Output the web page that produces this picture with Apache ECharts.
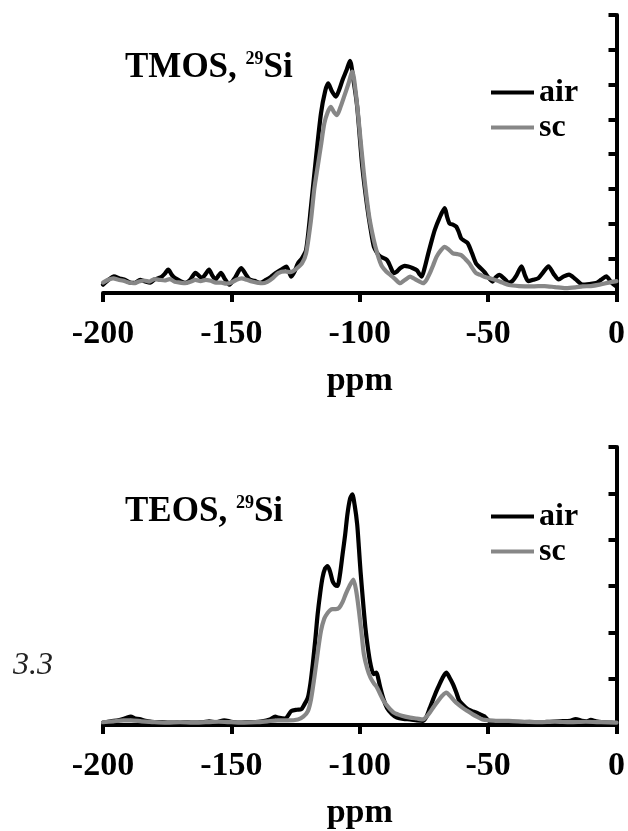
<!DOCTYPE html>
<html>
<head>
<meta charset="utf-8">
<script src="https://cdn.jsdelivr.net/npm/echarts@6/dist/echarts.min.js"></script>
<style>
  html, body { margin: 0; padding: 0; background: #fff; }
  #chart { width: 628px; height: 831px; }
</style>
</head>
<body>
<div id="chart"></div>
<script>
// 29Si NMR spectra, chemical shift (ppm) vs. intensity (a.u.)
const shiftTicks = [-200, -150, -100, -50, 0];
const seriesNames = ['air', 'sc'];

// TMOS-derived gel
const tmosAir = [
  [-200,0.24],[-197.5,0.4],[-195.8,0.48],[-193.5,0.42],[-191.8,0.39],[-189.5,0.3],[-187.8,0.29],
  [-185.5,0.38],[-183.9,0.34],[-181.5,0.3],[-179.9,0.39],[-177.5,0.45],[-176,0.55],[-174.6,0.67],
  [-173.2,0.52],[-172,0.43],[-170,0.35],[-168,0.29],[-166,0.38],[-164,0.58],[-162.7,0.5],
  [-161.4,0.43],[-160,0.55],[-158.7,0.67],[-157.4,0.5],[-156.1,0.39],[-155,0.5],[-154.1,0.58],
  [-152.5,0.4],[-150.8,0.24],[-148.5,0.45],[-146.2,0.72],[-144.5,0.55],[-142.9,0.39],[-141,0.35],
  [-138.9,0.29],[-136.5,0.38],[-134.5,0.47],[-133.6,0.53],[-131.8,0.62],[-130,0.7],[-128.6,0.76],
  [-127.5,0.6],[-126.7,0.47],[-125.5,0.6],[-124.1,0.85],[-122.5,1.0],[-120.9,1.24],[-119,2.48],
  [-117,3.92],[-115.1,5.17],[-113.5,5.8],[-112.3,6.03],[-110.8,5.8],[-109.3,5.65],[-108,5.85],
  [-106.7,6.13],[-105.2,6.4],[-103.8,6.68],[-102.4,6.1],[-101,5.36],[-99,3.63],[-97.1,2.48],
  [-95.8,1.85],[-94.5,1.33],[-93.2,1.15],[-92,1.05],[-89.4,0.95],[-88,0.75],[-86.8,0.57],
  [-85.5,0.62],[-84.3,0.71],[-82.5,0.78],[-81.1,0.76],[-79.5,0.72],[-77.8,0.66],[-76.8,0.55],
  [-75.9,0.47],[-74.8,0.7],[-73.3,1.14],[-72,1.5],[-70.8,1.81],[-69,2.15],[-66.9,2.44],[-66,2.2],
  [-65,2.0],[-63.7,1.97],[-62.4,1.91],[-61.4,1.75],[-60.5,1.57],[-59.2,1.5],[-57.9,1.43],
  [-56.3,1.15],[-54.7,0.85],[-53,0.72],[-51.5,0.61],[-49.9,0.45],[-48.3,0.33],[-47,0.45],
  [-45.7,0.52],[-43.8,0.42],[-42,0.3],[-40.5,0.35],[-39,0.5],[-37,0.77],[-35.6,0.5],[-34.4,0.34],
  [-32.4,0.38],[-30.4,0.43],[-28.5,0.6],[-26.5,0.77],[-24.5,0.55],[-22.5,0.39],[-20.5,0.48],
  [-18.5,0.53],[-16,0.4],[-13.2,0.24],[-10.5,0.26],[-7.9,0.29],[-6,0.38],[-4,0.48],[-2,0.3],[0,0.19]
];
const tmosSc = [
  [-200,0.3],[-198,0.38],[-196,0.42],[-194,0.38],[-192,0.35],[-190,0.3],[-188,0.28],[-186,0.33],
  [-184,0.36],[-182,0.33],[-180,0.4],[-178,0.38],[-176,0.36],[-174,0.4],[-172,0.32],[-170,0.3],
  [-168,0.28],[-166,0.32],[-164,0.38],[-162,0.34],[-160,0.38],[-158,0.35],[-156,0.3],[-154,0.3],
  [-152,0.27],[-150,0.3],[-148,0.38],[-146,0.42],[-144,0.38],[-142,0.33],[-140,0.3],[-138,0.28],
  [-136,0.32],[-134,0.42],[-131.8,0.57],[-129,0.62],[-127,0.6],[-125,0.68],[-122.5,0.85],
  [-120.9,1.14],[-119,2.1],[-117.7,3.0],[-116.4,3.63],[-115,4.3],[-113.8,4.88],[-112.5,5.2],
  [-111.3,5.36],[-110,5.2],[-108.9,5.12],[-107.5,5.35],[-106.1,5.65],[-104.5,6.0],[-102.9,6.37],
  [-101.6,5.8],[-100.3,4.88],[-98.4,3.44],[-96.5,2.29],[-95.2,1.75],[-93.9,1.33],[-92.6,1.0],
  [-91.3,0.76],[-89.7,0.62],[-88.1,0.52],[-86.2,0.4],[-84.3,0.28],[-82.3,0.38],[-80.4,0.47],
  [-79,0.42],[-77.8,0.37],[-76.5,0.32],[-75.3,0.28],[-74,0.38],[-72.7,0.57],[-71.4,0.8],
  [-70.1,1.04],[-68.5,1.22],[-66.9,1.33],[-65.3,1.25],[-63.7,1.14],[-62,1.12],[-60.5,1.09],
  [-58.9,0.98],[-57.3,0.85],[-56,0.7],[-54.7,0.57],[-53,0.52],[-51.5,0.47],[-49,0.42],[-47,0.37],
  [-44.5,0.3],[-41.9,0.23],[-38,0.2],[-33,0.19],[-28,0.2],[-24,0.17],[-19.8,0.14],[-16,0.16],
  [-13.2,0.19],[-10,0.2],[-6.6,0.24],[-3,0.3],[0,0.34]
];

// TEOS-derived gel
const teosAir = [
  [-200,0.05],[-197,0.08],[-194,0.1],[-191,0.15],[-189.2,0.18],[-187.5,0.14],[-185.8,0.13],
  [-183.5,0.09],[-181,0.07],[-177,0.06],[-173,0.05],[-169,0.06],[-165,0.05],[-161,0.06],
  [-158.7,0.08],[-156,0.06],[-152.8,0.1],[-150,0.07],[-146,0.05],[-142,0.06],[-138,0.08],
  [-135,0.12],[-132.9,0.18],[-131.8,0.16],[-129,0.14],[-126.7,0.3],[-124.5,0.33],[-122.8,0.34],
  [-121.5,0.45],[-120.2,0.59],[-119.2,0.9],[-118.3,1.31],[-117.3,1.85],[-116.4,2.39],[-115.4,2.85],
  [-114.5,3.18],[-113.5,3.38],[-112.5,3.43],[-111.5,3.3],[-110.6,3.11],[-109.6,3.02],[-108.7,3.0],
  [-107.7,3.25],[-106.7,3.68],[-105.7,4.1],[-104.8,4.55],[-103.8,4.88],[-102.9,4.98],[-102,4.75],
  [-101,4.33],[-100.3,3.8],[-99.7,3.32],[-98.7,2.65],[-97.8,2.1],[-96.8,1.65],[-95.8,1.31],
  [-94.6,1.1],[-93.5,1.13],[-92.7,0.98],[-92,0.81],[-90.7,0.55],[-89.4,0.37],[-87.5,0.24],
  [-85.5,0.16],[-83,0.13],[-80.4,0.12],[-77.8,0.1],[-75.3,0.09],[-74,0.18],[-72.7,0.37],
  [-71.1,0.6],[-69.5,0.81],[-67.9,1.0],[-66.3,1.13],[-65,1.02],[-63.7,0.88],[-62.4,0.7],
  [-61.2,0.52],[-59.5,0.42],[-57.9,0.34],[-56.3,0.3],[-54.7,0.27],[-53.1,0.23],[-51.5,0.19],
  [-49.9,0.1],[-48.3,0.05],[-45,0.06],[-41.9,0.05],[-38,0.06],[-34,0.07],[-30,0.06],[-26,0.07],
  [-22,0.08],[-18,0.09],[-15.9,0.13],[-13.5,0.09],[-11.5,0.08],[-10,0.11],[-8,0.08],[-5,0.06],
  [-2,0.05],[0,0.04]
];
const teosSc = [
  [-200,0.06],[-196,0.08],[-192,0.1],[-189,0.1],[-185,0.08],[-180,0.06],[-175,0.05],[-170,0.06],
  [-165,0.05],[-160,0.06],[-155,0.07],[-150,0.06],[-145,0.05],[-140,0.06],[-136,0.08],[-132,0.1],
  [-128,0.1],[-124.1,0.12],[-122,0.18],[-120.2,0.3],[-119,0.55],[-117.7,1.02],[-116.4,1.55],
  [-115.1,2.03],[-113.8,2.3],[-112.5,2.42],[-111.5,2.48],[-110.6,2.5],[-109.3,2.5],[-108,2.53],
  [-106.7,2.65],[-105.5,2.82],[-104,3.0],[-102.5,3.14],[-101.4,2.9],[-100.3,2.46],[-99.3,1.98],
  [-98.4,1.53],[-97.1,1.22],[-95.8,1.02],[-94.5,0.9],[-93.3,0.81],[-92,0.66],[-90.7,0.52],
  [-88.8,0.38],[-86.8,0.27],[-83.6,0.2],[-80.4,0.16],[-77.8,0.14],[-75.3,0.12],[-74,0.18],
  [-72.7,0.27],[-71.1,0.4],[-69.5,0.52],[-67.9,0.63],[-66.3,0.7],[-64.7,0.62],[-63.1,0.52],
  [-61.5,0.44],[-59.9,0.37],[-58,0.3],[-56,0.23],[-54,0.17],[-52.2,0.12],[-49.5,0.1],[-47,0.09],
  [-41.9,0.09],[-36,0.07],[-30,0.06],[-24,0.07],[-18,0.06],[-12,0.07],[-6,0.06],[0,0.05]
];

const SERIF = '"Liberation Serif", "Times New Roman", serif';
const AIR_COLOR = '#000000';
const SC_COLOR = '#878787';

function shiftAxis(gridIndex) {
  return {
    type: 'value', gridIndex,
    min: shiftTicks[0], max: shiftTicks[shiftTicks.length - 1], interval: 50,
    name: 'ppm', nameLocation: 'middle', nameGap: 71,
    nameTextStyle: { fontFamily: SERIF, fontWeight: 'bold', fontSize: 34, color: '#000' },
    axisLine: { show: true, onZero: false, lineStyle: { color: '#000', width: 4 } },
    axisTick: { show: true, inside: false, length: 9, lineStyle: { color: '#000', width: 4 } },
    axisLabel: {
      show: true, margin: 24, color: '#000',
      fontFamily: SERIF, fontWeight: 'bold', fontSize: 34,
      showMinLabel: true, showMaxLabel: true
    },
    splitLine: { show: false }
  };
}

function intensityAxis(gridIndex, max) {
  return {
    type: 'value', gridIndex, position: 'right',
    min: 0, max, interval: 1,
    axisLine: { show: true, onZero: false, lineStyle: { color: '#000', width: 4 } },
    axisTick: { show: true, inside: true, length: 8, lineStyle: { color: '#000', width: 4 } },
    axisLabel: { show: false },
    splitLine: { show: false }
  };
}

function spectrum(name, data, color, idx) {
  return {
    type: 'line', name, data,
    xAxisIndex: idx, yAxisIndex: idx,
    showSymbol: false, symbol: 'none', smooth: 0.25,
    lineStyle: { color, width: 4.2, join: 'round', cap: 'round' },
    itemStyle: { color },
    animation: false, z: color === AIR_COLOR ? 3 : 4
  };
}

function legendBox(top) {
  return {
    data: seriesNames, orient: 'vertical', left: 491, top,
    padding: 0, itemGap: 0, itemWidth: 43, itemHeight: 4, icon: 'rect',
    selectedMode: false,
    textStyle: { fontFamily: SERIF, fontWeight: 'bold', fontSize: 32, color: '#000', lineHeight: 35 }
  };
}

function heading(label, top) {
  return {
    text: '{a|' + label + ', }{s|29}{a|Si}', left: 125, top, padding: 0,
    textStyle: {
      rich: {
        a: { fontFamily: SERIF, fontWeight: 'bold', fontSize: 35, lineHeight: 36, color: '#000' },
        s: { fontFamily: SERIF, fontWeight: 'bold', fontSize: 18, lineHeight: 22, color: '#000', verticalAlign: 'top' }
      }
    }
  };
}

const chart = echarts.init(document.getElementById('chart'), null, { renderer: 'canvas' });
chart.setOption({
  backgroundColor: '#fff',
  animation: false,
  title: [heading('TMOS', 50), heading('TEOS', 494)],
  legend: [legendBox(75), legendBox(499)],
  grid: [
    { left: 103, top: 15, width: 519, height: 278 },
    { left: 103, top: 447, width: 519, height: 278 }
  ],
  xAxis: [shiftAxis(0), shiftAxis(1)],
  yAxis: [intensityAxis(0, 8), intensityAxis(1, 6)],
  series: [
    spectrum('air', tmosAir, AIR_COLOR, 0),
    spectrum('sc', tmosSc, SC_COLOR, 0),
    spectrum('air', teosAir, AIR_COLOR, 1),
    spectrum('sc', teosSc, SC_COLOR, 1)
  ],
  graphic: [{
    type: 'text', left: 13, top: 650,
    style: { text: '3.3', font: 'italic 32px ' + SERIF, fill: '#222' }
  }]
});
</script>
</body>
</html>
